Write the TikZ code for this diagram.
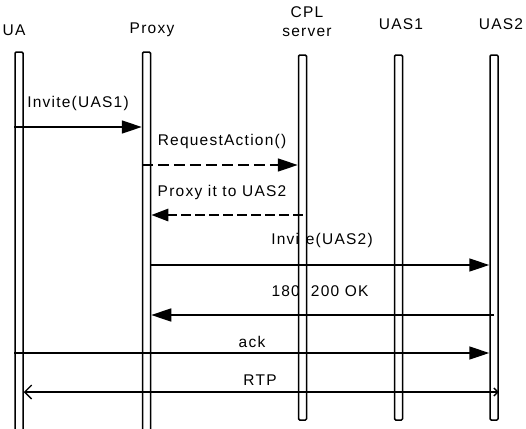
\documentclass[tikz,border=0pt]{standalone}
\usepackage{fontspec}
\setmainfont{Liberation Sans}[LetterSpace=8]
\usetikzlibrary{arrows.meta}
\begin{document}
\begin{tikzpicture}[x=1pt,y=-1pt,
  life/.style={draw, line width=1.5pt, fill=white, rounded corners=1.2pt, minimum width=8pt, inner sep=0pt},
  lbl/.style={font=\fontsize{15.5}{17}\selectfont, inner sep=0pt},
  msg/.style={line width=1.5pt, -{Triangle[length=20pt,width=13pt]}},
  dmsg/.style={msg, dash pattern=on 11pt off 5pt},
  tmsg/.style={line width=2.8pt, dash pattern=on 10pt off 4pt, -{Triangle[length=17pt,width=12pt]}},
  both/.style={line width=1.3pt, {Straight Barb[length=7pt,width=14pt]}-{Straight Barb[length=4pt,width=8pt]}}]
\useasboundingbox (0,0) rectangle (526,428);
\clip (0,0) rectangle (526,428);
% headers
\node[lbl] (hua) at (14,30) {UA};
\node[lbl] (hpx) at (152,30) {Proxy};
\node[lbl] (hcpl) at (307,12) {CPL};
\node[lbl] (hsrv) at (307,32) {server};
\node[lbl] (hu1) at (401,24) {UAS1};
\node[lbl] (hu2) at (501,24) {UAS2};
% message labels
\node[lbl] (l1) at (78,103) {Invite(UAS1)};
\node[lbl] (l2) at (222,141) {RequestAction()};
\node[lbl] (l3) at (222,192) {Proxy it to UAS2};
\node[lbl] (l4) at (322,240) {Invite(UAS2)};
\node[lbl] (l5) at (320,292) {180, 200 OK};
\node[lbl] (l6) at (252,342) {ack};
\node[lbl] (l7) at (260,380) {RTP};
% lifelines
\node[life, minimum height=390pt] (ua) at (19,247) {};
\node[life, minimum height=390pt] (px) at (146.5,247) {};
\node[life, minimum height=365pt] (cpl) at (302.5,237.5) {};
\node[life, minimum height=365pt] (u1) at (398.5,237.5) {};
\node[life, minimum height=365pt] (u2) at (494,237.5) {};
% messages
\draw[msg] (ua.west |- 0,127) -- (px.west |- 0,127);
\draw[dmsg] (px.west |- 0,165) -- (cpl.west |- 0,165);
\draw[tmsg] (cpl |- 0,215) -- (px.east |- 0,215);
\draw[msg] (px.east |- 0,265) -- (u2.west |- 0,265);
\draw[msg] (u2 |- 0,315) -- (px.east |- 0,315);
\draw[msg] (ua.west |- 0,353) -- (u2.west |- 0,353);
\draw[both] (ua.east |- 0,392) -- (u2.east |- 0,392);
\end{tikzpicture}
\end{document}
